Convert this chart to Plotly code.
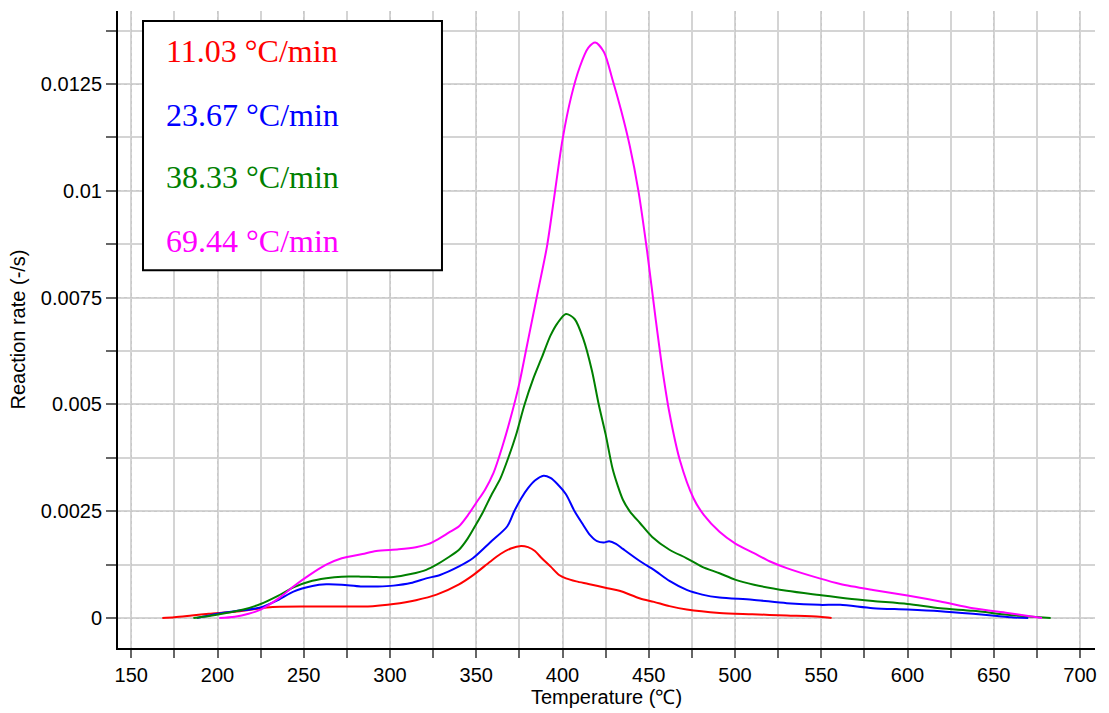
import plotly.graph_objects as go

# ---- data ----
red_T = [168, 175, 185, 195, 210, 220, 232, 260, 290, 302, 315, 327, 340, 348, 358, 364, 370, 376, 380, 384,
         388, 393, 398, 402, 408, 415, 426, 433, 445, 453, 462, 472, 491, 510, 530, 549, 556]
red_y = [0, 0.00002, 0.00006, 0.0001, 0.00015, 0.0002, 0.00026, 0.00027, 0.00028, 0.00033, 0.00042, 0.00055,
         0.00079, 0.001, 0.00132, 0.0015, 0.00163, 0.00169, 0.00166, 0.00157, 0.0014, 0.00121, 0.00101,
         0.00093, 0.00086, 0.0008, 0.0007, 0.00064, 0.00046, 0.00038, 0.00028, 0.0002, 0.00012, 0.00009,
         0.00006, 0.00003, 0]

blue_T = [188, 195, 200, 210, 225, 235, 244, 255, 263, 272, 283, 293, 302, 312, 321, 329, 340, 348, 358, 368,
          372, 376, 380, 384, 389, 393, 397, 402, 407, 412, 416, 420, 424, 427, 431, 435, 445, 453, 462, 472, 481,
          491, 510, 530, 549, 561, 580, 600, 619, 638, 652, 660, 670]
blue_y = [0, 0.00006, 0.0001, 0.00016, 0.00025, 0.00042, 0.00062, 0.00075, 0.00079, 0.00078, 0.00074, 0.00074,
          0.00076, 0.00082, 0.00093, 0.00101, 0.00121, 0.0014, 0.00177, 0.00215, 0.0025, 0.0028, 0.00304,
          0.00322, 0.00333, 0.00328, 0.00314, 0.0029, 0.0025, 0.00218, 0.00194, 0.0018, 0.00177, 0.0018, 0.00174,
          0.00162, 0.00133, 0.00113, 0.00087, 0.00066, 0.00055, 0.00048, 0.00043, 0.00035, 0.00031, 0.00031,
          0.00023, 0.0002, 0.00016, 0.0001, 0.00005, 0.00002, 0]

green_T = [186, 195, 205, 215, 225, 235, 244, 253, 263, 272, 283, 292, 302, 312, 321, 327, 333, 340, 345, 350,
           354, 359, 364, 369, 373, 378, 383, 388, 393, 397, 402, 407, 412, 417, 421, 425, 429, 432, 435, 439, 445,
           452, 462, 472, 481, 491, 500, 511, 530, 549, 565, 580, 600, 619, 638, 658, 670, 683]
green_y = [0, 0.00005, 0.00012, 0.0002, 0.00033, 0.00052, 0.00072, 0.00085, 0.00093, 0.00097, 0.00097, 0.00096,
           0.00096, 0.00103, 0.00113, 0.00125, 0.0014, 0.0016, 0.00186, 0.0022, 0.00249, 0.0029, 0.00327, 0.0038,
           0.00428, 0.005, 0.0056, 0.0061, 0.00661, 0.0069, 0.00712, 0.007, 0.00654, 0.0058, 0.0050, 0.0043,
           0.0035, 0.0031, 0.00277, 0.0025, 0.00222, 0.0019, 0.0016, 0.0014, 0.0012, 0.00105, 0.0009, 0.00078,
           0.00064, 0.00054, 0.00046, 0.0004, 0.00033, 0.00023, 0.00017, 0.00008, 0.00004, 0]

mag_T = [201, 210, 218, 225, 235, 244, 253, 263, 272, 284, 292, 305, 315, 322, 328, 334, 340, 345, 350, 355, 360,
         365, 370, 375, 379, 383, 386, 391, 395, 400, 405, 410, 415, 419, 424, 429, 434, 439, 444, 449, 454, 458,
         462, 468, 476, 482, 491, 500, 511, 520, 530, 549, 561, 580, 600, 619, 638, 658, 670, 678]
mag_y = [0, 0.00003, 0.0001, 0.0002, 0.00045, 0.00074, 0.001, 0.00125, 0.0014, 0.0015, 0.00157, 0.00161, 0.00166,
         0.00173, 0.00185, 0.002, 0.00215, 0.0024, 0.0027, 0.003, 0.0034, 0.004, 0.0047, 0.0055, 0.0063, 0.0071,
         0.0077, 0.0087, 0.0098, 0.0112, 0.0122, 0.0129, 0.01335, 0.01347, 0.01325, 0.0126, 0.01188, 0.01105,
         0.0100, 0.0086, 0.0070, 0.0058, 0.0048, 0.0037, 0.0028, 0.00241, 0.00202, 0.00175, 0.00152, 0.00133,
         0.00117, 0.00093, 0.0008, 0.00066, 0.00053, 0.00039, 0.00023, 0.00012, 0.00005, 0]

series_names = ["11.03 °C/min", "23.67 °C/min", "38.33 °C/min", "69.44 °C/min"]
series_colors = ["#ff0000", "#0000ff", "#008000", "#ff00ff"]

x_tickvals = [150, 200, 250, 300, 350, 400, 450, 500, 550, 600, 650, 700]
y_tickvals = [0, 0.0025, 0.005, 0.0075, 0.01, 0.0125]
y_ticktext = ["0", "0.0025", "0.005", "0.0075", "0.01", "0.0125"]

fig = go.Figure()
for T, y, name, col in zip([red_T, blue_T, green_T, mag_T], [red_y, blue_y, green_y, mag_y],
                           series_names, series_colors):
    fig.add_trace(go.Scatter(x=T, y=y, mode="lines", name=name,
                             line=dict(color=col, width=2, shape="spline", smoothing=0.8),
                             showlegend=False))

axis_font = dict(family="Liberation Sans, Arial, sans-serif", size=20, color="black")

fig.update_layout(
    width=1109, height=713,
    margin=dict(l=118, r=14, t=11, b=63),
    paper_bgcolor="white", plot_bgcolor="white",
    font=axis_font,
    xaxis=dict(
        range=[142.3, 708.7], tickvals=x_tickvals, ticks="outside", ticklen=8, tickwidth=1.5, tickcolor="#666",
        showline=True, linecolor="black", linewidth=2, mirror=False, zeroline=False,
        showgrid=True, gridcolor="#c8c8c8", griddash="dot", gridwidth=1,
        minor=dict(dtick=25, tick0=150, ticks="outside", ticklen=8, tickwidth=1.5, tickcolor="#666",
                   showgrid=True, gridcolor="#d4d4d4", griddash="solid", gridwidth=1.5),
        title=dict(text="Temperature (℃)", font=axis_font, standoff=2),
        tickfont=axis_font,
    ),
    yaxis=dict(
        range=[-0.0007, 0.01421], tickvals=y_tickvals, ticktext=y_ticktext, ticks="outside", ticklen=10,
        tickwidth=1.5, tickcolor="#666",
        showline=True, linecolor="black", linewidth=2, mirror=False, zeroline=False,
        showgrid=True, gridcolor="#c8c8c8", griddash="dot", gridwidth=1,
        minor=dict(dtick=0.00125, tick0=0, ticks="outside", ticklen=10, tickwidth=1.5, tickcolor="#666",
                   showgrid=True, gridcolor="#d4d4d4", griddash="solid", gridwidth=1.5),
        title=dict(text="Reaction rate (-/s)", font=axis_font, standoff=10),
        tickfont=axis_font,
    ),
)

# legend box
fig.add_shape(type="rect", xref="paper", yref="paper", x0=0.0256, x1=0.3316, y0=0.5931, y1=0.9844,
              line=dict(color="black", width=2), fillcolor="white", layer="above")
leg_y = [0.9379, 0.8372, 0.7387, 0.6390]
for name, col, yy in zip(series_names, series_colors, leg_y):
    fig.add_annotation(xref="paper", yref="paper", x=0.0471, y=yy, xanchor="left", yanchor="middle",
                       text=name, showarrow=False,
                       font=dict(family="Liberation Serif, Times New Roman, serif", size=32, color=col))

fig.write_html("out.html")
